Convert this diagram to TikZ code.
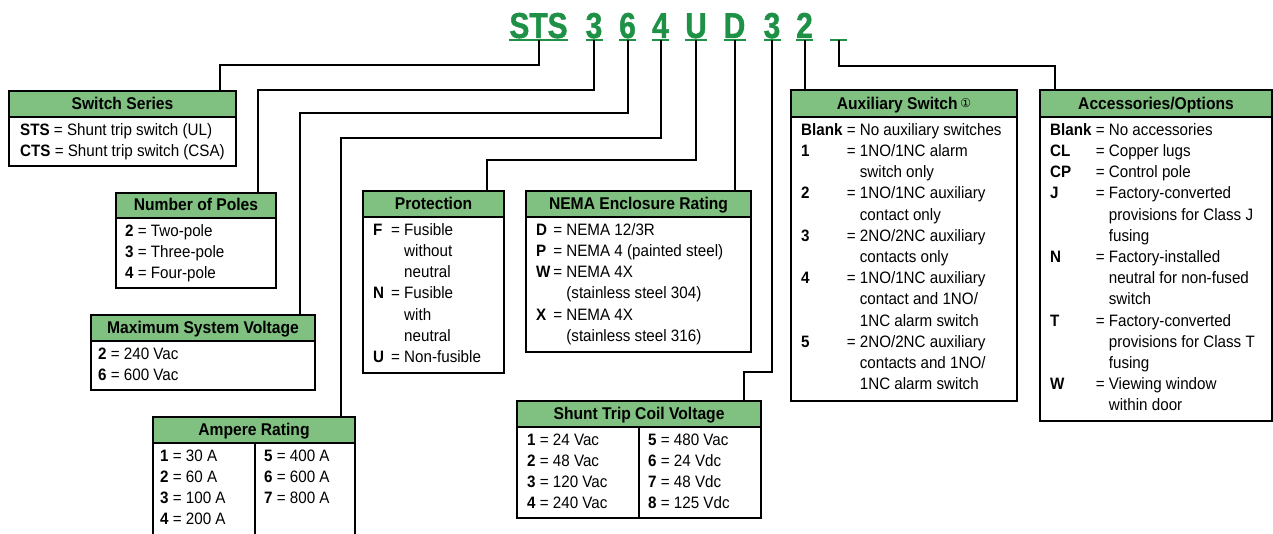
\documentclass[tikz,border=0pt]{standalone}
\usepackage{fontspec}
\setmainfont{Liberation Sans}[FakeStretch=0.92]
\newfontfamily\codefont{Liberation Sans}[FakeStretch=0.83,FakeBold=1.2]
\newfontfamily\symfont{DejaVu Sans}
\usepackage{array}
\usetikzlibrary{fit,calc}
\definecolor{codegreen}{RGB}{30,145,70}
\definecolor{headgreen}{RGB}{128,192,128}
\tikzset{
  boxst/.style={draw=black, line width=1.3pt, inner sep=0pt, fill=white},
  headst/.style={draw=black, line width=1.3pt, inner sep=0pt, fill=headgreen},
  titlest/.style={inner sep=0pt, anchor=base, font=\bfseries\fontsize{17}{20}\selectfont},
  bodyst/.style={inner sep=0pt, anchor=north west, font=\fontsize{16.5}{21.2}\selectfont},
  codest/.style={inner sep=0pt, anchor=base, text=codegreen, font=\codefont\bfseries\fontsize{36}{36}\selectfont},
  uline/.style={draw=codegreen, line width=2.2pt},
  conn/.style={draw=black, line width=2pt},
  divst/.style={draw=black, line width=1.3pt}
}
% name, x1, y1, x2, y2, header bottom, title
\newcommand\infobox[7]{%
  \node[boxst, fit={(#2,#3) (#4,#5)}] (#1) {};
  \node[headst, fit={(#2,#3) (#4,#6)}] (#1h) {};
  \node[titlest] (#1t) at ($(#2,#6)!0.5!(#4,#6) + (0,-7.5)$) {#7};
}
\begin{document}
\begin{tikzpicture}[x=1pt,y=-1pt]
\useasboundingbox (0,0) rectangle (1273,534);

% code letters
\node[codest] (k1) at (538.5,38) {STS};
\node[codest] (k2) at (594,38) {3};
\node[codest] (k3) at (627.5,38) {6};
\node[codest] (k4) at (660.5,38) {4};
\node[codest] (k5) at (696,38) {U};
\node[codest] (k6) at (734.5,38) {D};
\node[codest] (k7) at (772,38) {3};
\node[codest] (k8) at (804.5,38) {2};
\node[inner sep=0pt, minimum width=17pt, minimum height=0pt] (k9) at (838.5,40) {};
\foreach \k in {k1,k2,k3,k4,k5,k6,k7,k8}
  \draw[uline] ([yshift=-2pt]\k.base west) -- ([yshift=-2pt]\k.base east);
\draw[uline] (k9.west) -- (k9.east);

% boxes
\infobox{ss}{9}{91}{236}{166}{117}{Switch Series}
\infobox{np}{116}{193}{276}{288}{218}{Number of Poles}
\infobox{mv}{91}{315}{315}{390}{341}{Maximum System Voltage}
\infobox{ar}{153}{417}{355}{545}{443}{Ampere Rating}
\infobox{pr}{363}{191}{504}{373}{217}{Protection}
\infobox{ne}{526}{191}{751}{352}{217}{NEMA Enclosure Rating}
\infobox{ax}{791}{90}{1017}{401}{117}{Auxiliary Switch\,{\symfont\mdseries\fontsize{12}{12}\selectfont\raisebox{2pt}{①}}}
\infobox{ac}{1040}{90}{1272}{421}{117}{Accessories/Options}
\infobox{st}{517}{401}{761}{518}{427}{Shunt Trip Coil Voltage}

% dividers
\draw[divst] (255,443) -- (255,545);
\draw[divst] (639,427) -- (639,518);

% contents
\node[bodyst] (ssc) at (20,120.2) {\begin{tabular}{@{}l@{}}
\textbf{STS} = Shunt trip switch (UL)\\
\textbf{CTS} = Shunt trip switch (CSA)
\end{tabular}};
\node[bodyst] (npc) at (125,221.2) {\begin{tabular}{@{}l@{}}
\textbf{2} = Two-pole\\ \textbf{3} = Three-pole\\ \textbf{4} = Four-pole
\end{tabular}};
\node[bodyst] (mvc) at (98,344.2) {\begin{tabular}{@{}l@{}}
\textbf{2} = 240 Vac\\ \textbf{6} = 600 Vac
\end{tabular}};
\node[bodyst] (arc1) at (160,446.2) {\begin{tabular}{@{}l@{}}
\textbf{1} = 30 A\\ \textbf{2} = 60 A\\ \textbf{3} = 100 A\\ \textbf{4} = 200 A
\end{tabular}};
\node[bodyst] (arc2) at (264,446.2) {\begin{tabular}{@{}l@{}}
\textbf{5} = 400 A\\ \textbf{6} = 600 A\\ \textbf{7} = 800 A
\end{tabular}};
\node[bodyst] (prc) at (373,220.2) {\begin{tabular}{@{}l@{\ \,}l@{\ }l@{}}
\textbf{F} & = & Fusible\\ & & without\\ & & neutral\\
\textbf{N} & = & Fusible\\ & & with\\ & & neutral\\
\textbf{U} & = & Non-fusible
\end{tabular}};
\node[bodyst] (nec) at (536,220.2) {\begin{tabular}{@{}l@{\,}l@{\ }l@{}}
\textbf{D} & = & NEMA 12/3R\\
\textbf{P} & = & NEMA 4 (painted steel)\\
\textbf{W} & = & NEMA 4X\\ & & (stainless steel 304)\\
\textbf{X} & = & NEMA 4X\\ & & (stainless steel 316)
\end{tabular}};
\node[bodyst] (axc) at (801,120.2) {\begin{tabular}{@{}l@{\ }l@{\ }l@{}}
\textbf{Blank} & = & No auxiliary switches\\
\textbf{1} & = & 1NO/1NC alarm\\ & & switch only\\
\textbf{2} & = & 1NO/1NC auxiliary\\ & & contact only\\
\textbf{3} & = & 2NO/2NC auxiliary\\ & & contacts only\\
\textbf{4} & = & 1NO/1NC auxiliary\\ & & contact and 1NO/\\ & & 1NC alarm switch\\
\textbf{5} & = & 2NO/2NC auxiliary\\ & & contacts and 1NO/\\ & & 1NC alarm switch
\end{tabular}};
\node[bodyst] (acc) at (1050,120.2) {\begin{tabular}{@{}l@{\ }l@{\ }l@{}}
\textbf{Blank} & = & No accessories\\
\textbf{CL} & = & Copper lugs\\
\textbf{CP} & = & Control pole\\
\textbf{J} & = & Factory-converted\\ & & provisions for Class J\\ & & fusing\\
\textbf{N} & = & Factory-installed\\ & & neutral for non-fused\\ & & switch\\
\textbf{T} & = & Factory-converted\\ & & provisions for Class T\\ & & fusing\\
\textbf{W} & = & Viewing window\\ & & within door
\end{tabular}};
\node[bodyst] (stc1) at (527,430.2) {\begin{tabular}{@{}l@{}}
\textbf{1} = 24 Vac\\ \textbf{2} = 48 Vac\\ \textbf{3} = 120 Vac\\ \textbf{4} = 240 Vac
\end{tabular}};
\node[bodyst] (stc2) at (648,430.2) {\begin{tabular}{@{}l@{}}
\textbf{5} = 480 Vac\\ \textbf{6} = 24 Vdc\\ \textbf{7} = 48 Vdc\\ \textbf{8} = 125 Vdc
\end{tabular}};

% attach points on box tops
\coordinate (a1) at (220,91);
\coordinate (a2) at (258,193);
\coordinate (a3) at (300,315);
\coordinate (a4) at (341,417);
\coordinate (a5) at (487,191);
\coordinate (a7) at (744,401);
\coordinate (a9) at (1055,90);

% connectors
\draw[conn] ([yshift=-2pt]k1.base) -- ++(0,25) -| (a1);
\draw[conn] ([yshift=-2pt]k2.base) -- ++(0,50) -| (a2);
\draw[conn] ([yshift=-2pt]k3.base) -- ++(0,73) -| (a3);
\draw[conn] ([yshift=-2pt]k4.base) -- ++(0,98) -| (a4);
\draw[conn] ([yshift=-2pt]k5.base) -- ++(0,120) -| (a5);
\draw[conn] ([yshift=-2pt]k6.base) -- (k6.base |- ne.north);
\draw[conn] ([yshift=-2pt]k7.base) -- ++(0,332) -| (a7);
\draw[conn] ([yshift=-2pt]k8.base) -- (k8.base |- ax.north);
\draw[conn] (k9.center) -- ++(0,26) -| (a9);
\end{tikzpicture}
\end{document}
